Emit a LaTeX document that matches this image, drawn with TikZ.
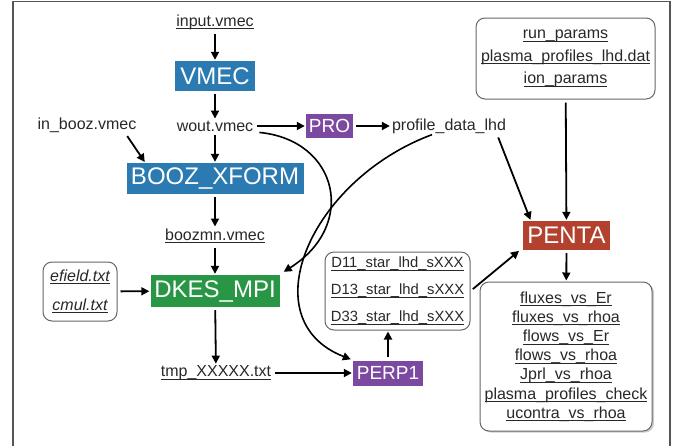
\documentclass[tikz,border=0pt]{standalone}
\usepackage{fontspec}
\setmainfont{Liberation Sans}
\usetikzlibrary{arrows.meta,shadows}
\definecolor{vblue}{RGB}{43,122,178}
\definecolor{dgreen}{RGB}{40,150,68}
\definecolor{ppurple}{RGB}{123,74,160}
\definecolor{pred}{RGB}{178,66,46}
\definecolor{framecol}{RGB}{85,85,85}
\definecolor{txt}{RGB}{40,40,40}
\newcommand\ulx[1]{{\setbox0=\hbox{#1}\leavevmode\rlap{\copy0}\rule[-3pt]{\wd0}{0.9pt}}}
\begin{document}
\begin{tikzpicture}[x=1pt,y=-1pt,
  lbl/.style={font=\fontsize{16}{19}\selectfont, text=txt, inner sep=1pt},
  prog/.style={fill=#1, text=white, font=\fontsize{24}{28}\selectfont, inner sep=0pt},
  smallprog/.style={fill=#1, text=white, font=\fontsize{19}{22}\selectfont, inner sep=0pt},
  filebox/.style={draw=black!60, line width=1pt, rounded corners=9pt, align=center, fill=white, text=txt, inner sep=2pt},
  arr/.style={line width=1.8pt, -{Triangle[length=8pt,width=8pt]}, shorten <=3pt, shorten >=1pt},
  curvearr/.style={line width=1.6pt, -{Triangle[length=8pt,width=8pt]}}
]
\useasboundingbox (0,0) rectangle (676,445);
\draw[framecol, line width=1.5pt] (13,447) -- (13,1.5) -- (670,1.5) -- (670,447);

% left column
\node[lbl] (input) at (215,22) {\ulx{input.vmec}};
\node[prog=vblue, minimum width=80pt, minimum height=30pt] (vmec) at (215,76) {VMEC};
\node[lbl] (wout) at (215,126) {wout.vmec};
\node[lbl] (inbooz) at (87,125) {in\_booz.vmec};
\node[prog=vblue, minimum width=177pt, minimum height=31pt] (booz) at (215,178.5) {BOOZ\_XFORM};
\node[lbl] (boozmn) at (215,236) {\ulx{boozmn.vmec}};
\node[prog=dgreen, minimum width=129pt, minimum height=32pt] (dkes) at (215,291) {DKES\_MPI};
\node[filebox, minimum width=74pt, minimum height=59pt, font=\fontsize{16}{29}\selectfont] (ef) at (80,291.5) {\ulx{\itshape efield.txt}\\\ulx{\itshape cmul.txt}};
\node[lbl] (tmp) at (216,373) {\ulx{tmp\_XXXXX.txt}};

% middle
\node[smallprog=ppurple, minimum width=47pt, minimum height=24pt] (pro) at (329.5,126) {PRO};
\node[lbl] (profile) at (449,126) {profile\_data\_lhd};
\node[smallprog=ppurple, minimum width=70pt, minimum height=25pt] (perp1) at (388,373) {PERP1};
\node[filebox, inner sep=1pt, minimum width=145pt, minimum height=78pt, font=\fontsize{14.8}{27}\selectfont] (dbox) at (397.5,291) {\ulx{D11\_star\_lhd\_sXXX}\\\ulx{D13\_star\_lhd\_sXXX}\\\ulx{D33\_star\_lhd\_sXXX}};

% right
\node[filebox, minimum width=179pt, minimum height=81pt, font=\fontsize{16}{22.5}\selectfont] (topbox) at (565.5,58.5) {\ulx{run\_params}\\\ulx{plasma\_profiles\_lhd.dat}\\\ulx{ion\_params}};
\node[prog=pred, minimum width=87pt, minimum height=29pt] (penta) at (566.5,235.5) {PENTA};
\node[filebox, minimum width=172pt, minimum height=149pt, font=\fontsize{16}{19.2}\selectfont, drop shadow={shadow xshift=2pt,shadow yshift=-1.5pt,fill=black!40}] (outbox) at (566,356.5) {\ulx{fluxes\_vs\_Er}\\\ulx{fluxes\_vs\_rhoa}\\\ulx{flows\_vs\_Er}\\\ulx{flows\_vs\_rhoa}\\\ulx{Jprl\_vs\_rhoa}\\\ulx{plasma\_profiles\_check}\\\ulx{ucontra\_vs\_rhoa}};

% connectors
\draw[arr] (input) -- (vmec);
\draw[arr] (vmec) -- (wout);
\draw[arr] (wout) -- (booz);
\draw[arr] ([xshift=-12pt]inbooz.south east) -- ([xshift=19pt]booz.north west);
\draw[arr] (booz) -- (boozmn);
\draw[arr] (boozmn) -- (dkes);
\draw[arr] (ef) -- (dkes);
\draw[arr] (dkes) -- (tmp);
\draw[arr] (tmp) -- (perp1);
\draw[arr] (wout) -- (pro);
\draw[arr] (pro) -- (profile);
\draw[arr] ([xshift=-10pt]profile.south east) -- ([xshift=8pt]penta.north west);
\draw[arr] (topbox) -- (penta);
\draw[arr] (perp1.north) -- (perp1.north |- dbox.south);
\draw[arr] (dbox.east) -- ([xshift=-3pt]penta.south west);
\draw[arr] (penta) -- (outbox);
\draw[curvearr] ([xshift=5pt]wout.south east) .. controls (338,140) and (358,225) .. ([xshift=4pt,yshift=3pt]dkes.north east);
\draw[curvearr] ([xshift=-17pt]profile.south) .. controls (310,180) and (250,320) .. ([xshift=-2pt,yshift=1pt]perp1.north west);
\end{tikzpicture}
\end{document}
